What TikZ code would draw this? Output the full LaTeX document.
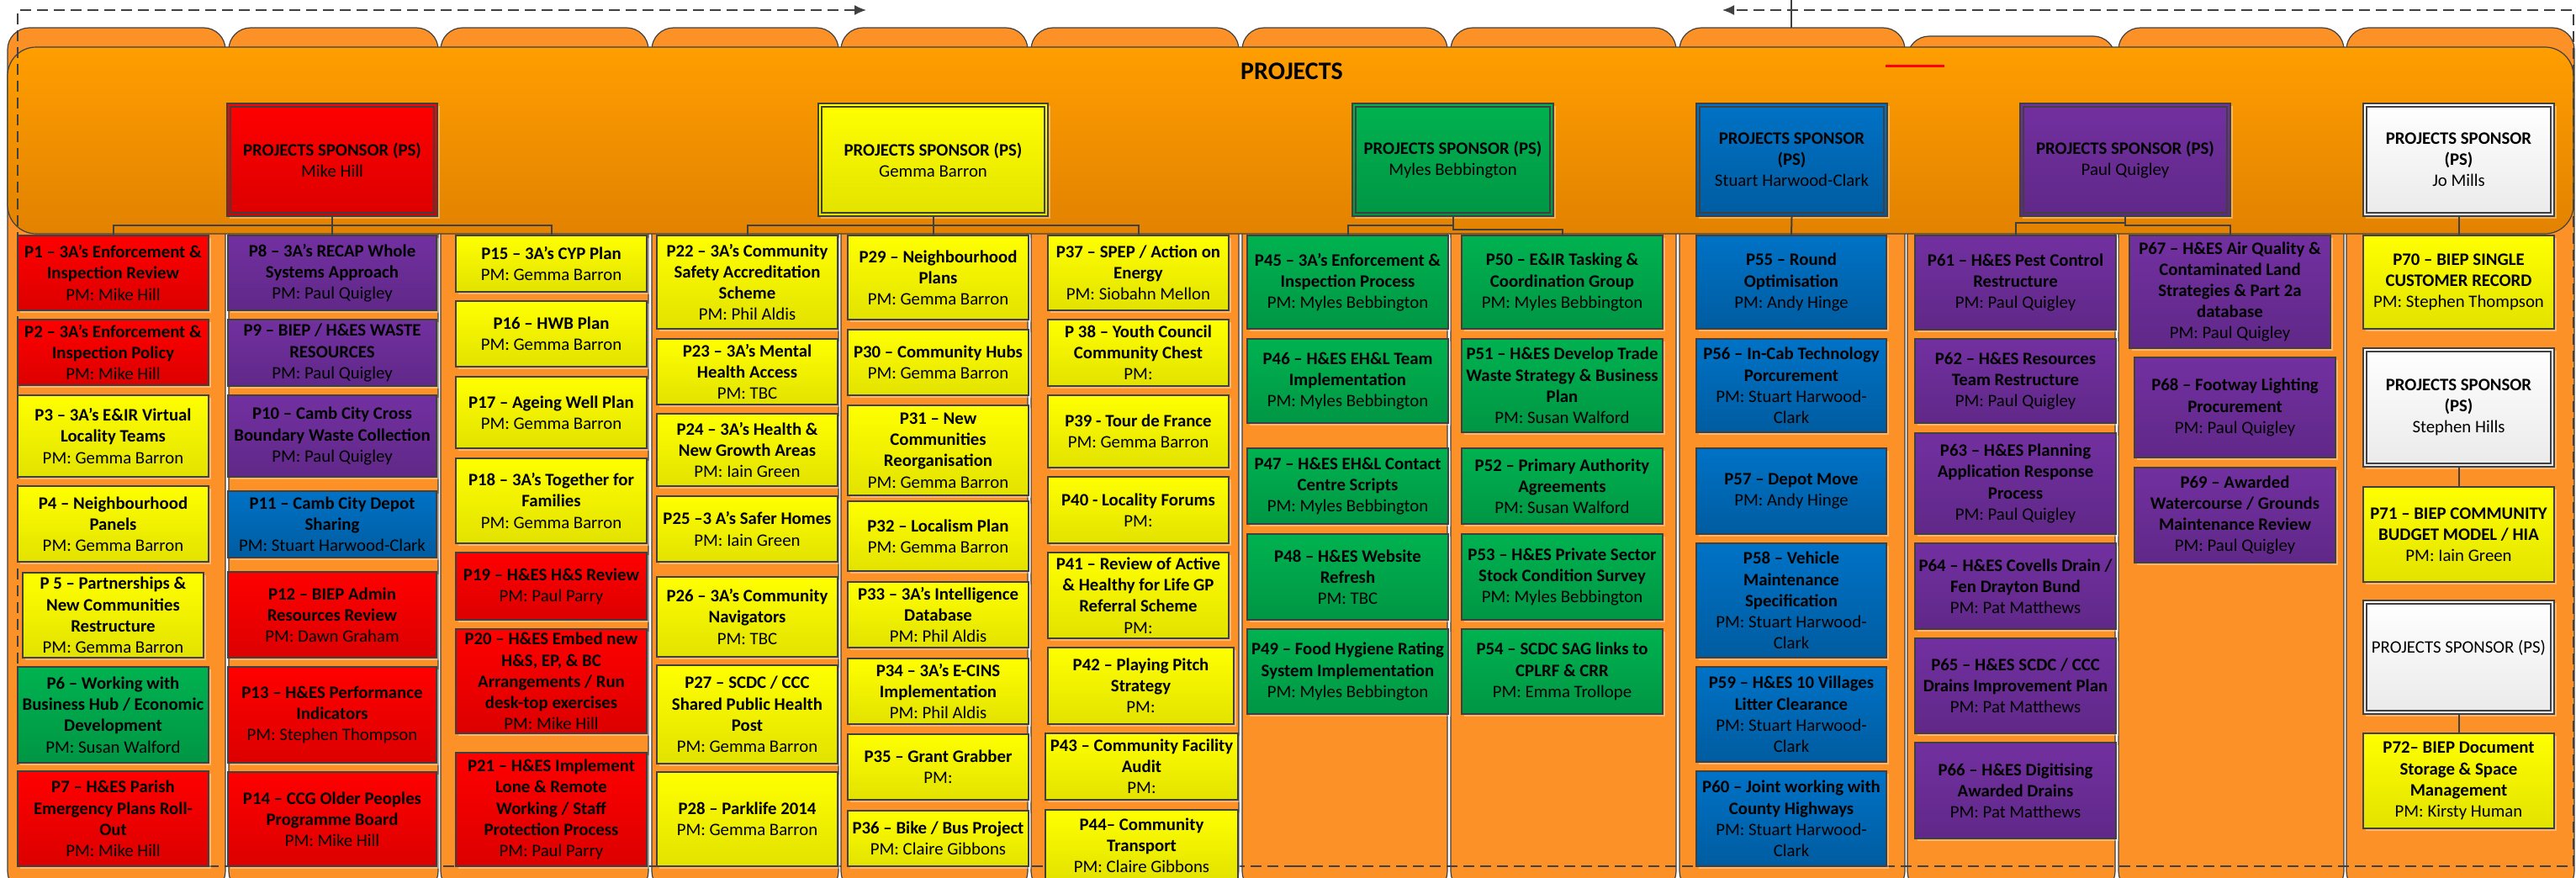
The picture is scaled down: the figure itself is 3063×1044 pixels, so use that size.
\documentclass[tikz,border=0pt]{standalone}
\usepackage{fontspec}
\setmainfont{Carlito}
\usetikzlibrary{arrows.meta,shadows}

\definecolor{edgegray}{RGB}{64,64,64}
\definecolor{colorange}{RGB}{252,145,40}
\definecolor{bandtop}{RGB}{255,158,0}
\definecolor{bandbot}{RGB}{226,130,0}
\definecolor{redtop}{RGB}{255,0,0}
\definecolor{redbot}{RGB}{220,0,0}
\definecolor{yeltop}{RGB}{255,255,0}
\definecolor{yelbot}{RGB}{226,226,0}
\definecolor{grntop}{RGB}{0,178,80}
\definecolor{grnbot}{RGB}{0,150,68}
\definecolor{blutop}{RGB}{0,114,198}
\definecolor{blubot}{RGB}{0,92,160}
\definecolor{purtop}{RGB}{114,48,160}
\definecolor{purbot}{RGB}{96,40,136}
\definecolor{whttop}{RGB}{255,255,255}
\definecolor{whtbot}{RGB}{234,234,234}

\tikzset{
  column/.style={draw=edgegray, line width=0.6pt, fill=colorange, rounded corners=13pt},
  band/.style={draw=edgegray, line width=0.6pt, top color=bandtop, bottom color=bandbot, rounded corners=17pt},
  frame/.style={draw=edgegray, line width=0.8pt, dash pattern=on 6.5pt off 3.5pt},
  link/.style={draw=edgegray, line width=1pt},
  pbox/.style={draw=edgegray, line width=0.9pt, inner xsep=0pt, inner ysep=1pt, align=center,
    font=\fontsize{10.4}{12.6}\selectfont\bfseries,
    drop shadow={shadow xshift=1.5pt, shadow yshift=-1.5pt, fill=white, opacity=0.35}},
  rd/.style={top color=redtop, bottom color=redbot},
  yl/.style={top color=yeltop, bottom color=yelbot},
  gn/.style={top color=grntop, bottom color=grnbot},
  bl/.style={top color=blutop, bottom color=blubot},
  pu/.style={top color=purtop, bottom color=purbot},
  wt/.style={top color=whttop, bottom color=whtbot}
}

% name, x1, y1, x2, y2, colour style, title, manager
\newcommand\projbox[8]{%
  \pgfmathsetlengthmacro\boxw{(#4-#2)*0.5pt}%
  \pgfmathsetlengthmacro\boxh{(#5-#3)*0.5pt}%
  \node[pbox, #6, minimum width=\boxw, minimum height=\boxh] (#1)
    at ({(#2+#4)/2},{(#3+#5)/2}) {#7\\\mdseries PM: #8};}

% same, with the inner frame of a sponsor box
\newcommand\sponsorbox[8]{%
  \pgfmathsetlengthmacro\boxw{(#4-#2)*0.5pt}%
  \pgfmathsetlengthmacro\boxh{(#5-#3)*0.5pt}%
  \node[pbox, #6, minimum width=\boxw, minimum height=\boxh] (#1)
    at ({(#2+#4)/2},{(#3+#5)/2}) {#7\\\mdseries #8};
  \draw[edgegray, line width=0.9pt] ([shift={(2.5pt,-2.5pt)}]#1.north west)
    rectangle ([shift={(-2.5pt,2.5pt)}]#1.south east);}

\begin{document}
\begin{tikzpicture}[x=0.5pt, y=-0.5pt]
  \useasboundingbox (0,0) rectangle (3063,1044);

  % columns
  \foreach \xa/\xb/\ya in {9/268/33, 272/521/33, 524/771/33, 775/997/33,
      1000/1222/33, 1226/1473/33, 1477/1721/33, 1725/1993/33,
      1997/2265/33, 2268/2515/43, 2519/2787/33, 2790/3061/33}
    \draw[column] (\xa,\ya) rectangle (\xb,1062);

  % projects band
  \draw[band] (9,56) rectangle (3060,278);

  % dashed frame
  \draw[frame, -{Latex[length=7pt,width=6pt]}] (1540,1030) -| (21,12) -- (1030,12);
  \draw[frame, -{Latex[length=7pt,width=6pt]}] (1540,1030) -| (3060,12) -- (2048,12);
  \draw[link, line width=0.8pt] (2130,0) -- (2130,33);
  \draw[red, line width=1.5pt] (2242,78) -- (2312,78);

  \node[font=\fontsize{15}{18}\selectfont\bfseries] (title) at (1536,85) {PROJECTS};

  % sponsors
  \sponsorbox{ps1}{270}{123}{520}{257}{rd}{PROJECTS SPONSOR (PS)}{Mike Hill}
  \sponsorbox{ps2}{973}{123}{1246}{257}{yl}{PROJECTS SPONSOR (PS)}{Gemma Barron}
  \sponsorbox{ps3}{1608}{123}{1847}{257}{gn}{PROJECTS SPONSOR (PS)}{Myles Bebbington}
  \sponsorbox{ps4}{2017}{123}{2244}{257}{bl}{PROJECTS SPONSOR\\(PS)}{Stuart Harwood-Clark}
  \sponsorbox{ps5}{2402}{123}{2652}{257}{pu}{PROJECTS SPONSOR (PS)}{Paul Quigley}
  \sponsorbox{ps6}{2810}{123}{3037}{257}{wt}{PROJECTS SPONSOR\\(PS)}{Jo Mills}

  % column 1
  \projbox{p1}{21}{280}{248}{369}{rd}{P1 – 3A’s Enforcement \&\\Inspection Review}{Mike Hill}
  \projbox{p2}{21}{380}{248}{458}{rd}{P2 – 3A’s Enforcement \&\\Inspection Policy}{Mike Hill}
  \projbox{p3}{21}{470}{248}{567}{yl}{P3 – 3A’s E\&IR Virtual\\Locality Teams}{Gemma Barron}
  \projbox{p4}{21}{578}{248}{668}{yl}{P4 – Neighbourhood\\Panels}{Gemma Barron}
  \projbox{p5}{27}{681}{242}{782}{yl}{P 5 – Partnerships \&\\New Communities\\Restructure}{Gemma Barron}
  \projbox{p6}{21}{793}{248}{907}{gn}{P6 – Working with\\Business Hub / Economic\\Development}{Susan Walford}
  \projbox{p7}{21}{917}{248}{1030}{rd}{P7 – H\&ES Parish\\Emergency Plans Roll-\\Out}{Mike Hill}

  % column 2
  \projbox{p8}{271}{280}{519}{369}{pu}{P8 – 3A’s RECAP Whole\\Systems Approach}{Paul Quigley}
  \projbox{p9}{271}{380}{519}{459}{pu}{P9 – BIEP / H\&ES WASTE\\RESOURCES}{Paul Quigley}
  \projbox{p10}{271}{470}{519}{567}{pu}{P10 – Camb City Cross\\Boundary Waste Collection}{Paul Quigley}
  \projbox{p11}{271}{584}{519}{663}{bl}{P11 – Camb City Depot\\Sharing}{Stuart Harwood-Clark}
  \projbox{p12}{271}{680}{519}{782}{rd}{P12 – BIEP Admin\\Resources Review}{Dawn Graham}
  \projbox{p13}{271}{793}{519}{907}{rd}{P13 – H\&ES  Performance\\Indicators}{Stephen Thompson}
  \projbox{p14}{271}{918}{519}{1030}{rd}{P14 – CCG Older Peoples\\Programme Board}{Mike Hill}

  % column 3
  \projbox{p15}{542}{280}{769}{347}{yl}{P15 – 3A’s CYP Plan}{Gemma Barron}
  \projbox{p16}{542}{358}{769}{436}{yl}{P16 – HWB Plan}{Gemma Barron}
  \projbox{p17}{542}{448}{769}{533}{yl}{P17 – Ageing Well Plan}{Gemma Barron}
  \projbox{p18}{542}{545}{769}{646}{yl}{P18 – 3A’s Together for\\Families}{Gemma Barron}
  \projbox{p19}{542}{657}{769}{737}{rd}{P19 – H\&ES H\&S Review}{Paul Parry}
  \projbox{p20}{542}{748}{769}{872}{rd}{P20 – H\&ES Embed new\\H\&S, EP, \& BC\\Arrangements / Run\\desk-top exercises}{Mike Hill}
  \projbox{p21}{542}{895}{769}{1030}{rd}{P21 – H\&ES Implement\\Lone \& Remote\\Working / Staff\\Protection Process}{Paul Parry}

  % column 4
  \projbox{p22}{781}{280}{996}{391}{yl}{P22 – 3A’s Community\\Safety Accreditation\\Scheme}{Phil Aldis}
  \projbox{p23}{781}{403}{996}{481}{yl}{P23 – 3A’s Mental\\Health Access}{TBC}
  \projbox{p24}{781}{492}{996}{578}{yl}{P24 – 3A’s Health \&\\New Growth Areas}{Iain Green}
  \projbox{p25}{781}{590}{996}{668}{yl}{P25 –3 A’s  Safer Homes}{Iain Green}
  \projbox{p26}{781}{686}{996}{781}{yl}{P26 – 3A’s Community\\Navigators}{TBC}
  \projbox{p27}{781}{791}{996}{908}{yl}{P27 – SCDC / CCC\\Shared Public Health\\Post}{Gemma Barron}
  \projbox{p28}{781}{918}{996}{1030}{yl}{P28 – Parklife 2014}{Gemma Barron}

  % column 5
  \projbox{p29}{1008}{280}{1223}{380}{yl}{P29 – Neighbourhood\\Plans}{Gemma Barron}
  \projbox{p30}{1008}{392}{1223}{470}{yl}{P30 – Community Hubs}{Gemma Barron}
  \projbox{p31}{1008}{482}{1223}{589}{yl}{P31 – New\\Communities\\Reorganisation}{Gemma Barron}
  \projbox{p32}{1008}{596}{1223}{679}{yl}{P32 – Localism Plan}{Gemma Barron}
  \projbox{p33}{1008}{692}{1223}{770}{yl}{P33 – 3A’s Intelligence\\Database}{Phil Aldis}
  \projbox{p34}{1008}{783}{1223}{861}{yl}{P34 – 3A’s E-CINS\\Implementation}{Phil Aldis}
  \projbox{p35}{1008}{873}{1223}{951}{yl}{P35 – Grant Grabber}{}
  \projbox{p36}{1008}{964}{1223}{1030}{yl}{P36 – Bike / Bus Project}{Claire Gibbons}

  % column 6
  \projbox{p37}{1246}{280}{1461}{369}{yl}{P37 – SPEP / Action on\\Energy}{Siobahn Mellon}
  \projbox{p38}{1246}{380}{1461}{459}{yl}{P 38 – Youth Council\\Community Chest}{}
  \projbox{p39}{1246}{470}{1461}{556}{yl}{P39 -  Tour de France}{Gemma Barron}
  \projbox{p40}{1246}{567}{1461}{646}{yl}{P40 -  Locality Forums}{}
  \projbox{p41}{1246}{657}{1461}{759}{yl}{P41 – Review of Active\\\& Healthy for Life GP\\Referral Scheme}{}
  \projbox{p42}{1246}{770}{1467}{861}{yl}{P42 – Playing Pitch\\Strategy}{}
  \projbox{p43}{1243}{872}{1472}{951}{yl}{P43 – Community Facility\\Audit}{}
  \projbox{p44}{1243}{963}{1472}{1048}{yl}{P44– Community\\Transport}{Claire Gibbons}

  % column 7
  \projbox{p45}{1483}{280}{1722}{391}{gn}{P45 – 3A’s Enforcement \&\\Inspection Process}{Myles Bebbington}
  \projbox{p46}{1483}{403}{1722}{503}{gn}{P46 – H\&ES EH\&L Team\\Implementation}{Myles Bebbington}
  \projbox{p47}{1483}{533}{1722}{623}{gn}{P47 – H\&ES EH\&L Contact\\Centre Scripts}{Myles Bebbington}
  \projbox{p48}{1483}{635}{1722}{737}{gn}{P48 – H\&ES Website\\Refresh}{TBC}
  \projbox{p49}{1483}{748}{1722}{849}{gn}{P49 – Food Hygiene Rating\\System Implementation}{Myles Bebbington}

  % column 8
  \projbox{p50}{1738}{280}{1977}{391}{gn}{P50 – E\&IR Tasking \&\\Coordination Group}{Myles Bebbington}
  \projbox{p51}{1738}{403}{1977}{514}{gn}{P51 – H\&ES Develop Trade\\Waste Strategy \& Business\\Plan}{Susan Walford}
  \projbox{p52}{1738}{533}{1977}{623}{gn}{P52 – Primary Authority\\Agreements}{Susan Walford}
  \projbox{p53}{1738}{635}{1977}{737}{gn}{P53 – H\&ES Private Sector\\Stock Condition Survey}{Myles Bebbington}
  \projbox{p54}{1738}{748}{1977}{849}{gn}{P54 – SCDC SAG links to\\CPLRF \& CRR}{Emma Trollope}

  % column 9
  \projbox{p55}{2017}{280}{2243}{391}{bl}{P55 – Round\\Optimisation}{Andy Hinge}
  \projbox{p56}{2017}{403}{2243}{514}{bl}{P56 – In-Cab Technology\\Porcurement}{Stuart Harwood-\\\mdseries Clark}
  \projbox{p57}{2017}{533}{2243}{635}{bl}{P57  – Depot Move}{Andy Hinge}
  \projbox{p58}{2017}{646}{2243}{782}{bl}{P58 – Vehicle\\Maintenance\\Specification}{Stuart Harwood-\\\mdseries Clark}
  \projbox{p59}{2017}{793}{2243}{906}{bl}{P59 – H\&ES 10 Villages\\Litter Clearance}{Stuart Harwood-\\\mdseries Clark}
  \projbox{p60}{2017}{917}{2243}{1030}{bl}{P60 – Joint working with\\County Highways}{Stuart Harwood-\\\mdseries Clark}

  % column 10
  \projbox{p61}{2277}{280}{2516}{392}{pu}{P61 – H\&ES Pest Control\\Restructure}{Paul Quigley}
  \projbox{p62}{2277}{403}{2516}{503}{pu}{P62 – H\&ES Resources\\Team Restructure}{Paul Quigley}
  \projbox{p63}{2277}{515}{2516}{635}{pu}{P63 – H\&ES Planning\\Application Response\\Process}{Paul Quigley}
  \projbox{p64}{2277}{646}{2516}{748}{pu}{P64 – H\&ES Covells Drain /\\Fen Drayton Bund}{Pat Matthews}
  \projbox{p65}{2277}{759}{2516}{872}{pu}{P65 – H\&ES SCDC / CCC\\Drains Improvement Plan}{Pat Matthews}
  \projbox{p66}{2277}{883}{2516}{997}{pu}{P66 – H\&ES Digitising\\Awarded Drains}{Pat Matthews}

  % column 11
  \projbox{p67}{2532}{280}{2771}{414}{pu}{P67 – H\&ES Air Quality \&\\Contaminated Land\\Strategies \& Part 2a\\database}{Paul Quigley}
  \projbox{p68}{2538}{425}{2777}{544}{pu}{P68 – Footway Lighting\\Procurement}{Paul Quigley}
  \projbox{p69}{2538}{556}{2777}{669}{pu}{P69 – Awarded\\Watercourse / Grounds\\Maintenance Review}{Paul Quigley}

  % column 12
  \projbox{p70}{2810}{280}{3037}{391}{yl}{P70 – BIEP SINGLE\\CUSTOMER RECORD}{Stephen Thompson}
  \sponsorbox{ps7}{2810}{414}{3037}{555}{wt}{PROJECTS SPONSOR\\(PS)}{Stephen Hills}
  \projbox{p71}{2810}{579}{3037}{692}{yl}{P71 – BIEP COMMUNITY\\BUDGET MODEL / HIA}{Iain Green}
  \sponsorbox{ps8}{2810}{714}{3037}{849}{wt}{\mdseries PROJECTS SPONSOR (PS)}{}
  \projbox{p72}{2810}{872}{3037}{985}{yl}{P72– BIEP Document\\Storage \& Space\\Management}{Kirsty Human}

  % connectors
  \coordinate (busa) at (0,268);
  \coordinate (busb) at (0,273);
  \coordinate (busc) at (0,265);
  \draw[link] (ps1.south) -- (p8.north);
  \draw[link] (p1.north) |- (p15.north |- busa) -- (p15.north);
  \draw[link] (ps2.south) -- (ps2.south |- p29.north);
  \draw[link] (p22.north) |- (p37.north |- busa) -- (p37.north);
  \draw[link] (p45.north) |- (ps3.south |- busa);
  \draw[link] (ps3.south) |- (p50.north |- busb) -- (p50.north);
  \draw[link] (ps4.south) -- (p55.north);
  \draw[link] (p61.north) |- (ps5.south |- busc);
  \draw[link] (ps5.south) |- (p67.north |- busa) -- (p67.north);
  \draw[link] (ps6.south) -- (p70.north);
  \draw[link] (ps7.south) -- (p71.north);
  \draw[link] (ps8.south) -- (p72.north);
\end{tikzpicture}
\end{document}
